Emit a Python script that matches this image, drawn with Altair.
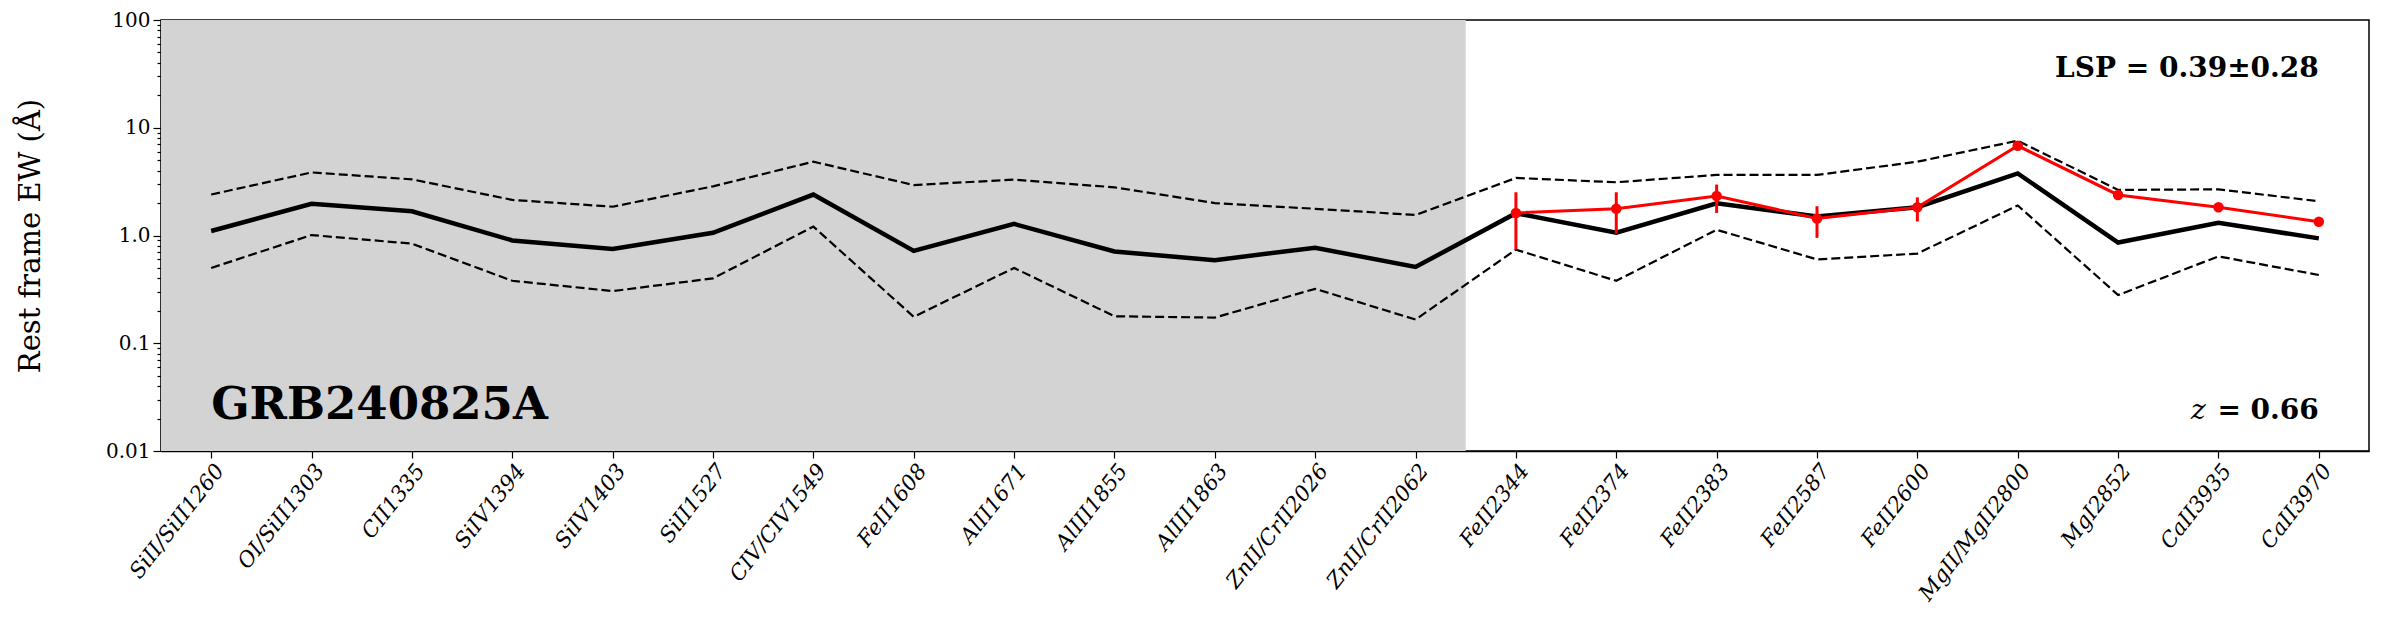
import json
import altair as alt
import pandas as pd

# ---------------- data ----------------
labels = ["SiII/SiII1260", "OI/SiII1303", "CII1335", "SiIV1394", "SiIV1403",
          "SiII1527", "CIV/CIV1549", "FeII1608", "AlII1671", "AlIII1855",
          "AlIII1863", "ZnII/CrII2026", "ZnII/CrII2062", "FeII2344", "FeII2374",
          "FeII2383", "FeII2587", "FeII2600", "MgII/MgII2800", "MgI2852",
          "CaII3935", "CaII3970"]
mean_ew = [1.10, 1.97, 1.68, 0.90, 0.75, 1.06, 2.40, 0.72, 1.28, 0.71, 0.59,
           0.77, 0.51, 1.61, 1.06, 1.99, 1.50, 1.83, 3.77, 0.86, 1.31, 0.94]
upper_ew = [2.40, 3.85, 3.32, 2.14, 1.85, 2.86, 4.84, 2.94, 3.30, 2.80, 2.00,
            1.77, 1.55, 3.42, 3.12, 3.65, 3.65, 4.84, 7.58, 2.65, 2.68, 2.08]
lower_ew = [0.50, 1.01, 0.84, 0.38, 0.305, 0.40, 1.21, 0.176, 0.50, 0.178, 0.173,
            0.32, 0.166, 0.74, 0.38, 1.13, 0.60, 0.68, 1.90, 0.28, 0.64, 0.43]

grb_idx = [13, 14, 15, 16, 17, 18, 19, 20, 21]
grb_ew = [1.62, 1.77, 2.33, 1.44, 1.83, 6.80, 2.38, 1.83, 1.34]
grb_hi = [2.52, 2.52, 2.97, 1.87, 2.26, 7.30, 2.55, 1.95, 1.45]
grb_lo = [0.74, 1.04, 1.62, 0.95, 1.35, 6.30, 2.22, 1.72, 1.24]

shade_from = [-0.5]
shade_to = [12.5]

y_major = [0.01, 0.1, 1, 10, 100]
y_major_text = ["0.01", "0.1", "1.0", "10", "100"]

grb_name = "GRB240825A"
lsp_text = "LSP = 0.39±0.28"
z_text = "= 0.66"

# ---------------- tables ----------------
df = pd.DataFrame({"i": list(range(len(labels))), "mean": mean_ew,
                   "upper": upper_ew, "lower": lower_ew})
red = pd.DataFrame({"i": grb_idx, "ew": grb_ew, "hi": grb_hi, "lo": grb_lo})
shade = pd.DataFrame({"x0": shade_from, "x1": shade_to,
                      "y0": [y_major[0]], "y1": [y_major[-1]]})

minor = [m * 10 ** e for e in range(-2, 2) for m in range(2, 10)]
y_vals = sorted(y_major + minor)
ylab_expr = " : ".join(
    f"datum.value == {v} ? '{t}'" for v, t in zip(y_major, y_major_text)) + " : ''"

FONT = "DejaVu Serif"
W, H = 2208, 431

xscale = alt.Scale(domain=[-0.5, len(labels) - 0.5], nice=False, zero=False)
yscale = alt.Scale(type="log", domain=[y_major[0], y_major[-1]], nice=False)

x_axis = alt.Axis(values=list(range(len(labels))),
                  labelExpr=json.dumps(labels) + "[datum.value]",
                  labelAngle=-52, labelAlign="right", labelBaseline="top",
                  labelFont=FONT, labelFontStyle="italic", labelFontSize=21.4,
                  labelColor="black", labelOverlap=False, labelPadding=2,
                  labelLimit=0,
                  tickSize=7, tickColor="black", tickWidth=1.2,
                  domainColor="black", domainWidth=1.5, grid=False, title=None)
y_axis = alt.Axis(values=y_vals, labelExpr=ylab_expr,
                  labelFont=FONT, labelFontSize=20, labelColor="black",
                  labelOverlap=False, labelPadding=3,
                  tickSize={"condition": {"test": "indexof([0.01,0.1,1,10,100], datum.value) >= 0",
                                          "value": 8}, "value": 4},
                  tickColor="black", tickWidth=1.2,
                  domainColor="black", domainWidth=1.5, grid=False,
                  title="Rest frame EW (Å)", titleFont=FONT, titleFontSize=29,
                  titleFontWeight="normal", titleColor="black",
                  titleX=-131, titleY=H / 2, titleAlign="center",
                  titleBaseline="middle", titleAngle=270)


def X(f):
    return alt.X(f, type="quantitative", scale=xscale, axis=x_axis)


def Y(f):
    return alt.Y(f, type="quantitative", scale=yscale, axis=y_axis)


rect = alt.Chart(shade).mark_rect(color="#d3d3d3").encode(
    x=X("x0"), x2="x1", y=Y("y0"), y2="y1")

base = alt.Chart(df)
up = base.mark_line(color="black", strokeWidth=2.2, strokeDash=[9, 4]).encode(x=X("i"), y=Y("upper"))
lo = base.mark_line(color="black", strokeWidth=2.2, strokeDash=[9, 4]).encode(x=X("i"), y=Y("lower"))
mid = base.mark_line(color="black", strokeWidth=4.5).encode(x=X("i"), y=Y("mean"))

rbase = alt.Chart(red)
rline = rbase.mark_line(color="red", strokeWidth=3).encode(x=X("i"), y=Y("ew"))
rerr = rbase.mark_rule(color="red", strokeWidth=3).encode(x=X("i"), y=Y("lo"), y2="hi")
rpts = rbase.mark_circle(color="red", size=110, opacity=1).encode(x=X("i"), y=Y("ew"))

txt = pd.DataFrame({"x": [0, len(labels) - 1, len(labels) - 1, len(labels) - 1],
                    "y": [0.02, 29.5, 0.02, 0.02],
                    "t": [grb_name, lsp_text, z_text, "z"]})
t1 = alt.Chart(txt.iloc[[0]]).mark_text(font=FONT, fontSize=45, fontWeight="bold",
                                        align="left", baseline="alphabetic", color="black").encode(
    x=X("x"), y=Y("y"), text="t:N")
t2 = alt.Chart(txt.iloc[[1]]).mark_text(font=FONT, fontSize=28, fontWeight="bold",
                                        align="right", baseline="alphabetic", color="black").encode(
    x=X("x"), y=Y("y"), text="t:N")
t3 = alt.Chart(txt.iloc[[2]]).mark_text(font=FONT, fontSize=28, fontWeight="bold",
                                        align="right", baseline="alphabetic", color="black").encode(
    x=X("x"), y=Y("y"), text="t:N")
t4 = alt.Chart(txt.iloc[[3]]).mark_text(font=FONT, fontSize=28, fontStyle="italic",
                                        align="right", baseline="alphabetic", dx=-113, color="black").encode(
    x=X("x"), y=Y("y"), text="t:N")

chart = alt.layer(rect, up, lo, mid, rline, rerr, rpts, t1, t2, t3, t4).properties(
    width=W, height=H,
    padding={"left": 153, "top": 12, "right": 4, "bottom": 160},
    autosize=alt.AutoSizeParams(type="none"),
    background="white",
).configure_view(stroke="black", strokeWidth=1.5)

chart.save("out.html", embed_options={"renderer": "svg", "actions": False})
